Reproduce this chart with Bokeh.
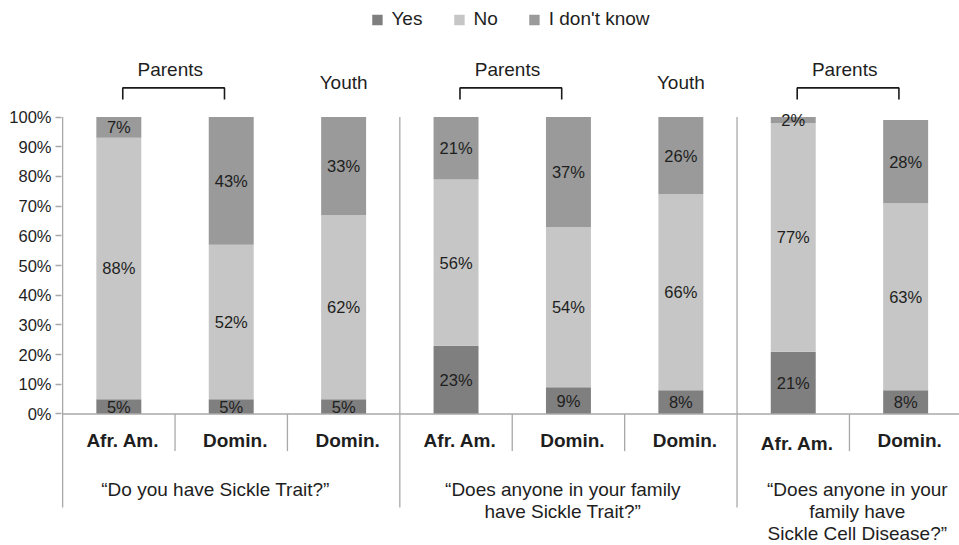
from bokeh.plotting import figure
from bokeh.models import (Range1d, FixedTicker, PrintfTickFormatter, ColumnDataSource,
                          Legend, LegendItem)
from bokeh.core.properties import value
from bokeh.embed import file_html
from bokeh.resources import INLINE

# ---------------- data ----------------
categories = ["Afr. Am.", "Domin.", "Domin.", "Afr. Am.", "Domin.", "Domin.", "Afr. Am.", "Domin."]
yes = [5, 5, 5, 23, 9, 8, 21, 8]
no = [88, 52, 62, 56, 54, 66, 77, 63]
dont_know = [7, 43, 33, 21, 37, 26, 2, 28]
series = ["Yes", "No", "I don't know"]
questions = ["\u201cDo you have Sickle Trait?\u201d",
             "\u201cDoes anyone in your family\nhave Sickle Trait?\u201d",
             "\u201cDoes anyone in your\nfamily have\nSickle Cell Disease?\u201d"]
group_sizes = [3, 3, 2]
respondent_labels = ["Parents", "Youth", "Parents", "Youth", "Parents"]
respondent_bars = [[0, 1], [2], [3, 4], [5], [6, 7]]
y_ticks = [0, 10, 20, 30, 40, 50, 60, 70, 80, 90, 100]

# ---------------- style ----------------
colors = ["#7f7f7f", "#c5c6c5", "#999a99"]
FONT = "Liberation Sans"
TXT = "#1e1e1e"
GRID = "#a8a8a8"

p = figure(width=959, height=545, output_backend="svg", toolbar_location=None,
           x_range=Range1d(-0.01, 7.979), y_range=Range1d(-44.28, 139.23),
           x_axis_location=None, y_axis_location="left",
           min_border_left=61, min_border_right=0, min_border_top=0, min_border_bottom=0)
p.outline_line_color = None
p.xgrid.visible = False
p.ygrid.visible = False
p.background_fill_color = "white"
p.border_fill_color = "white"

ax = p.yaxis[0]
ax.ticker = FixedTicker(ticks=y_ticks)
ax.formatter = PrintfTickFormatter(format="%d%%")
ax.axis_line_color = None
ax.major_tick_out = 6
ax.major_tick_in = 0
ax.minor_tick_line_color = None
ax.major_tick_line_color = GRID
ax.major_tick_line_width = 1.3
ax.major_label_text_font = FONT
ax.major_label_text_font_size = "16.5px"
ax.major_label_text_color = TXT
ax.major_label_standoff = 4

# ---------------- bars ----------------
xc = [i + 0.5 for i in range(len(categories))]
src = ColumnDataSource(dict(x=xc, yes=yes, no=no, dk=dont_know))
rs = p.vbar_stack(["yes", "no", "dk"], x="x", width=0.4, source=src,
                  color=colors, line_color=None)

# data labels
lx, ly, lt = [], [], []
for i in range(len(categories)):
    base = 0
    for v in (yes[i], no[i], dont_know[i]):
        lx.append(xc[i]); ly.append(base + v / 2); lt.append(f"{v}%")
        base += v
p.text(x=lx, y=ly, text=lt, text_align="center", text_baseline="middle",
       text_font=value(FONT), text_font_size="16.5px", text_color=TXT)

# ---------------- axis lines / separators ----------------
n = len(categories)
p.segment(x0=[0], y0=[0], x1=[n], y1=[0], line_color=GRID, line_width=1.3)
big = [0]
for g in group_sizes:
    big.append(big[-1] + g)
small = [i for i in range(1, n) if i not in big]
p.segment(x0=small, y0=[0] * len(small), x1=small, y1=[-12.5] * len(small),
          line_color=GRID, line_width=1.3)
bigs = big[:-1]
p.segment(x0=bigs, y0=[100] * len(bigs), x1=bigs, y1=[-31.5] * len(bigs),
          line_color=GRID, line_width=1.3)

# category labels
cy = [-8.9] * n
cy[6] = -9.9
p.text(x=xc, y=cy, text=categories, x_offset=4, text_align="center", text_baseline="middle",
       text_font=value(FONT), text_font_size="19px", text_font_style="bold", text_color=TXT)

# question labels
q_off = [-0.14, -0.05, 0.07]
qx = []
start = 0
for g, off in zip(group_sizes, q_off):
    qx.append(start + g / 2 + off)
    start += g
p.text(x=qx, y=[-21.9] * len(qx), text=questions, text_align="center", text_baseline="top",
       text_line_height=1.05, text_font=value(FONT), text_font_size="19px", text_color=TXT)

# respondent labels and brackets
for lab, bars in zip(respondent_labels, respondent_bars):
    if len(bars) > 1:
        a = xc[bars[0]] + 0.035
        b = xc[bars[-1]] - 0.06
        p.line(x=[a, a, b, b], y=[105.9, 109.8, 109.8, 105.9], line_color="#1a1a1a", line_width=1.6)
        p.text(x=[(a + b) / 2 - 0.03], y=[116.0], text=[lab], text_align="center",
               text_baseline="middle", text_font=value(FONT), text_font_size="19px", text_color=TXT)
    else:
        p.text(x=[xc[bars[0]]], y=[111.7], text=[lab], text_align="center",
               text_baseline="middle", text_font=value(FONT), text_font_size="19px", text_color=TXT)

# ---------------- legend ----------------
legend = Legend(items=[LegendItem(label=s, renderers=[r]) for s, r in zip(series, rs)],
                orientation="horizontal", location="top_center",
                glyph_width=13, glyph_height=13, label_standoff=8, spacing=30,
                padding=0, margin=8, border_line_color=None, background_fill_alpha=0,
                label_text_font=FONT, label_text_font_size="19px", label_text_color=TXT)
p.add_layout(legend, "center")

open("out.html", "w").write(file_html(p, INLINE))
